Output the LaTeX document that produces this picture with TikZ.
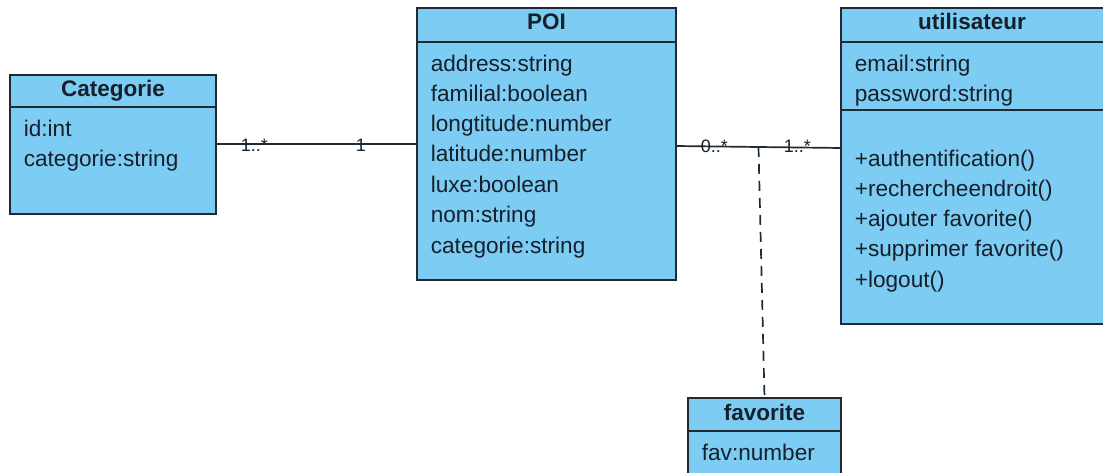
\documentclass[tikz,border=0pt]{standalone}
\usepackage{fontspec}
\setmainfont{Liberation Sans}
\usetikzlibrary{positioning}
\definecolor{classfill}{HTML}{7DCCF3}
\definecolor{classline}{HTML}{1F2A33}
\definecolor{classtext}{HTML}{15202B}
\tikzset{
    classbox/.style={draw=classline, fill=classfill, inner sep=0pt, outer sep=0pt},
    classname/.style={anchor=base, inner sep=0pt, text=classtext, font=\fontsize{22.5}{26}\selectfont\bfseries},
    member/.style={anchor=base west, inner sep=0pt, text=classtext, font=\fontsize{22.6}{26}\selectfont},
    mult/.style={anchor=base west, inner sep=0pt, text=classtext, font=\fontsize{18}{20}\selectfont},
    assocline/.style={draw=classline},
    favline/.style={draw=classline, dash pattern=on 10pt off 7pt}
}

\begin{document}
\begin{tikzpicture}[x=1pt, y=-1pt, line width=1.7pt]
            \useasboundingbox (0,0) rectangle (1103,473);
            % Categorie
            \node[classbox, anchor=north west, minimum width=206pt, minimum height=32pt] (cat) at (10,75) {};
            \node[classbox, minimum width=206pt, minimum height=107pt, below=0pt of cat] (catbody) {};
            \node[classname] (catname) at (113,97) {Categorie};
            \node[member] (catid) at (23,137) {id:int};
            \node[member] (catcat) at (23,167) {categorie:string};
            % POI
            \node[classbox, anchor=north west, minimum width=259pt, minimum height=34pt] (poi) at (417,8) {};
            \node[classbox, minimum width=259pt, minimum height=238pt, below=0pt of poi] (poibody) {};
            \node[classname] (poiname) at (546.5,30) {POI};
            \node[member] (poiaddr) at (430,72) {address:string};
            \node[member] (poifam) at (430,102) {familial:boolean};
            \node[member] (poilong) at (430,132) {longtitude:number};
            \node[member] (poilat) at (430,162) {latitude:number};
            \node[member] (poiluxe) at (430,193) {luxe:boolean};
            \node[member] (poinom) at (430,223) {nom:string};
            \node[member] (poicat) at (430,253) {categorie:string};
            % utilisateur
            \node[classbox, anchor=north west, minimum width=263pt, minimum height=34pt] (util) at (841,8) {};
            \node[classbox, minimum width=263pt, minimum height=68pt, below=0pt of util] (utilattr) {};
            \node[classbox, minimum width=263pt, minimum height=214pt, below=0pt of utilattr] (utilops) {};
            \node[classname] (utilname) at (972,30) {utilisateur};
            \node[member] (utilmail) at (854,72) {email:string};
            \node[member] (utilpass) at (854,102) {password:string};
            \node[member] (utilauth) at (854,167) {+authentification()};
            \node[member] (utilrech) at (854,197) {+rechercheendroit()};
            \node[member] (utiladd) at (854,227) {+ajouter favorite()};
            \node[member] (utildel) at (854,257) {+supprimer favorite()};
            \node[member] (utilout) at (854,287) {+logout()};
            % favorite
            \node[classbox, anchor=north west, minimum width=153pt, minimum height=33pt] (fav) at (688,398) {};
            \node[classbox, minimum width=153pt, minimum height=60pt, below=0pt of fav] (favbody) {};
            \node[classname] (favname) at (764.5,420) {favorite};
            \node[member] (favnum) at (701,460) {fav:number};
            % associations
            \draw[assocline] ([yshift=16.5pt]catbody.east) -- ([yshift=17pt]poibody.west);
            \draw[assocline] ([yshift=15pt]poibody.east) -- coordinate[pos=0.5] (favmid) ([yshift=69pt]utilops.west);
            \draw[favline] (favmid) -- (fav.north);
            \node[mult] (catmult) at (240,152) {1..*};
            \node[mult] (poimult) at (355,152) {1};
            \node[mult] (poifavmult) at (700,153) {0..*};
            \node[mult] (utilmult) at (783,153) {1..*};
        \end{tikzpicture}
\end{document}
